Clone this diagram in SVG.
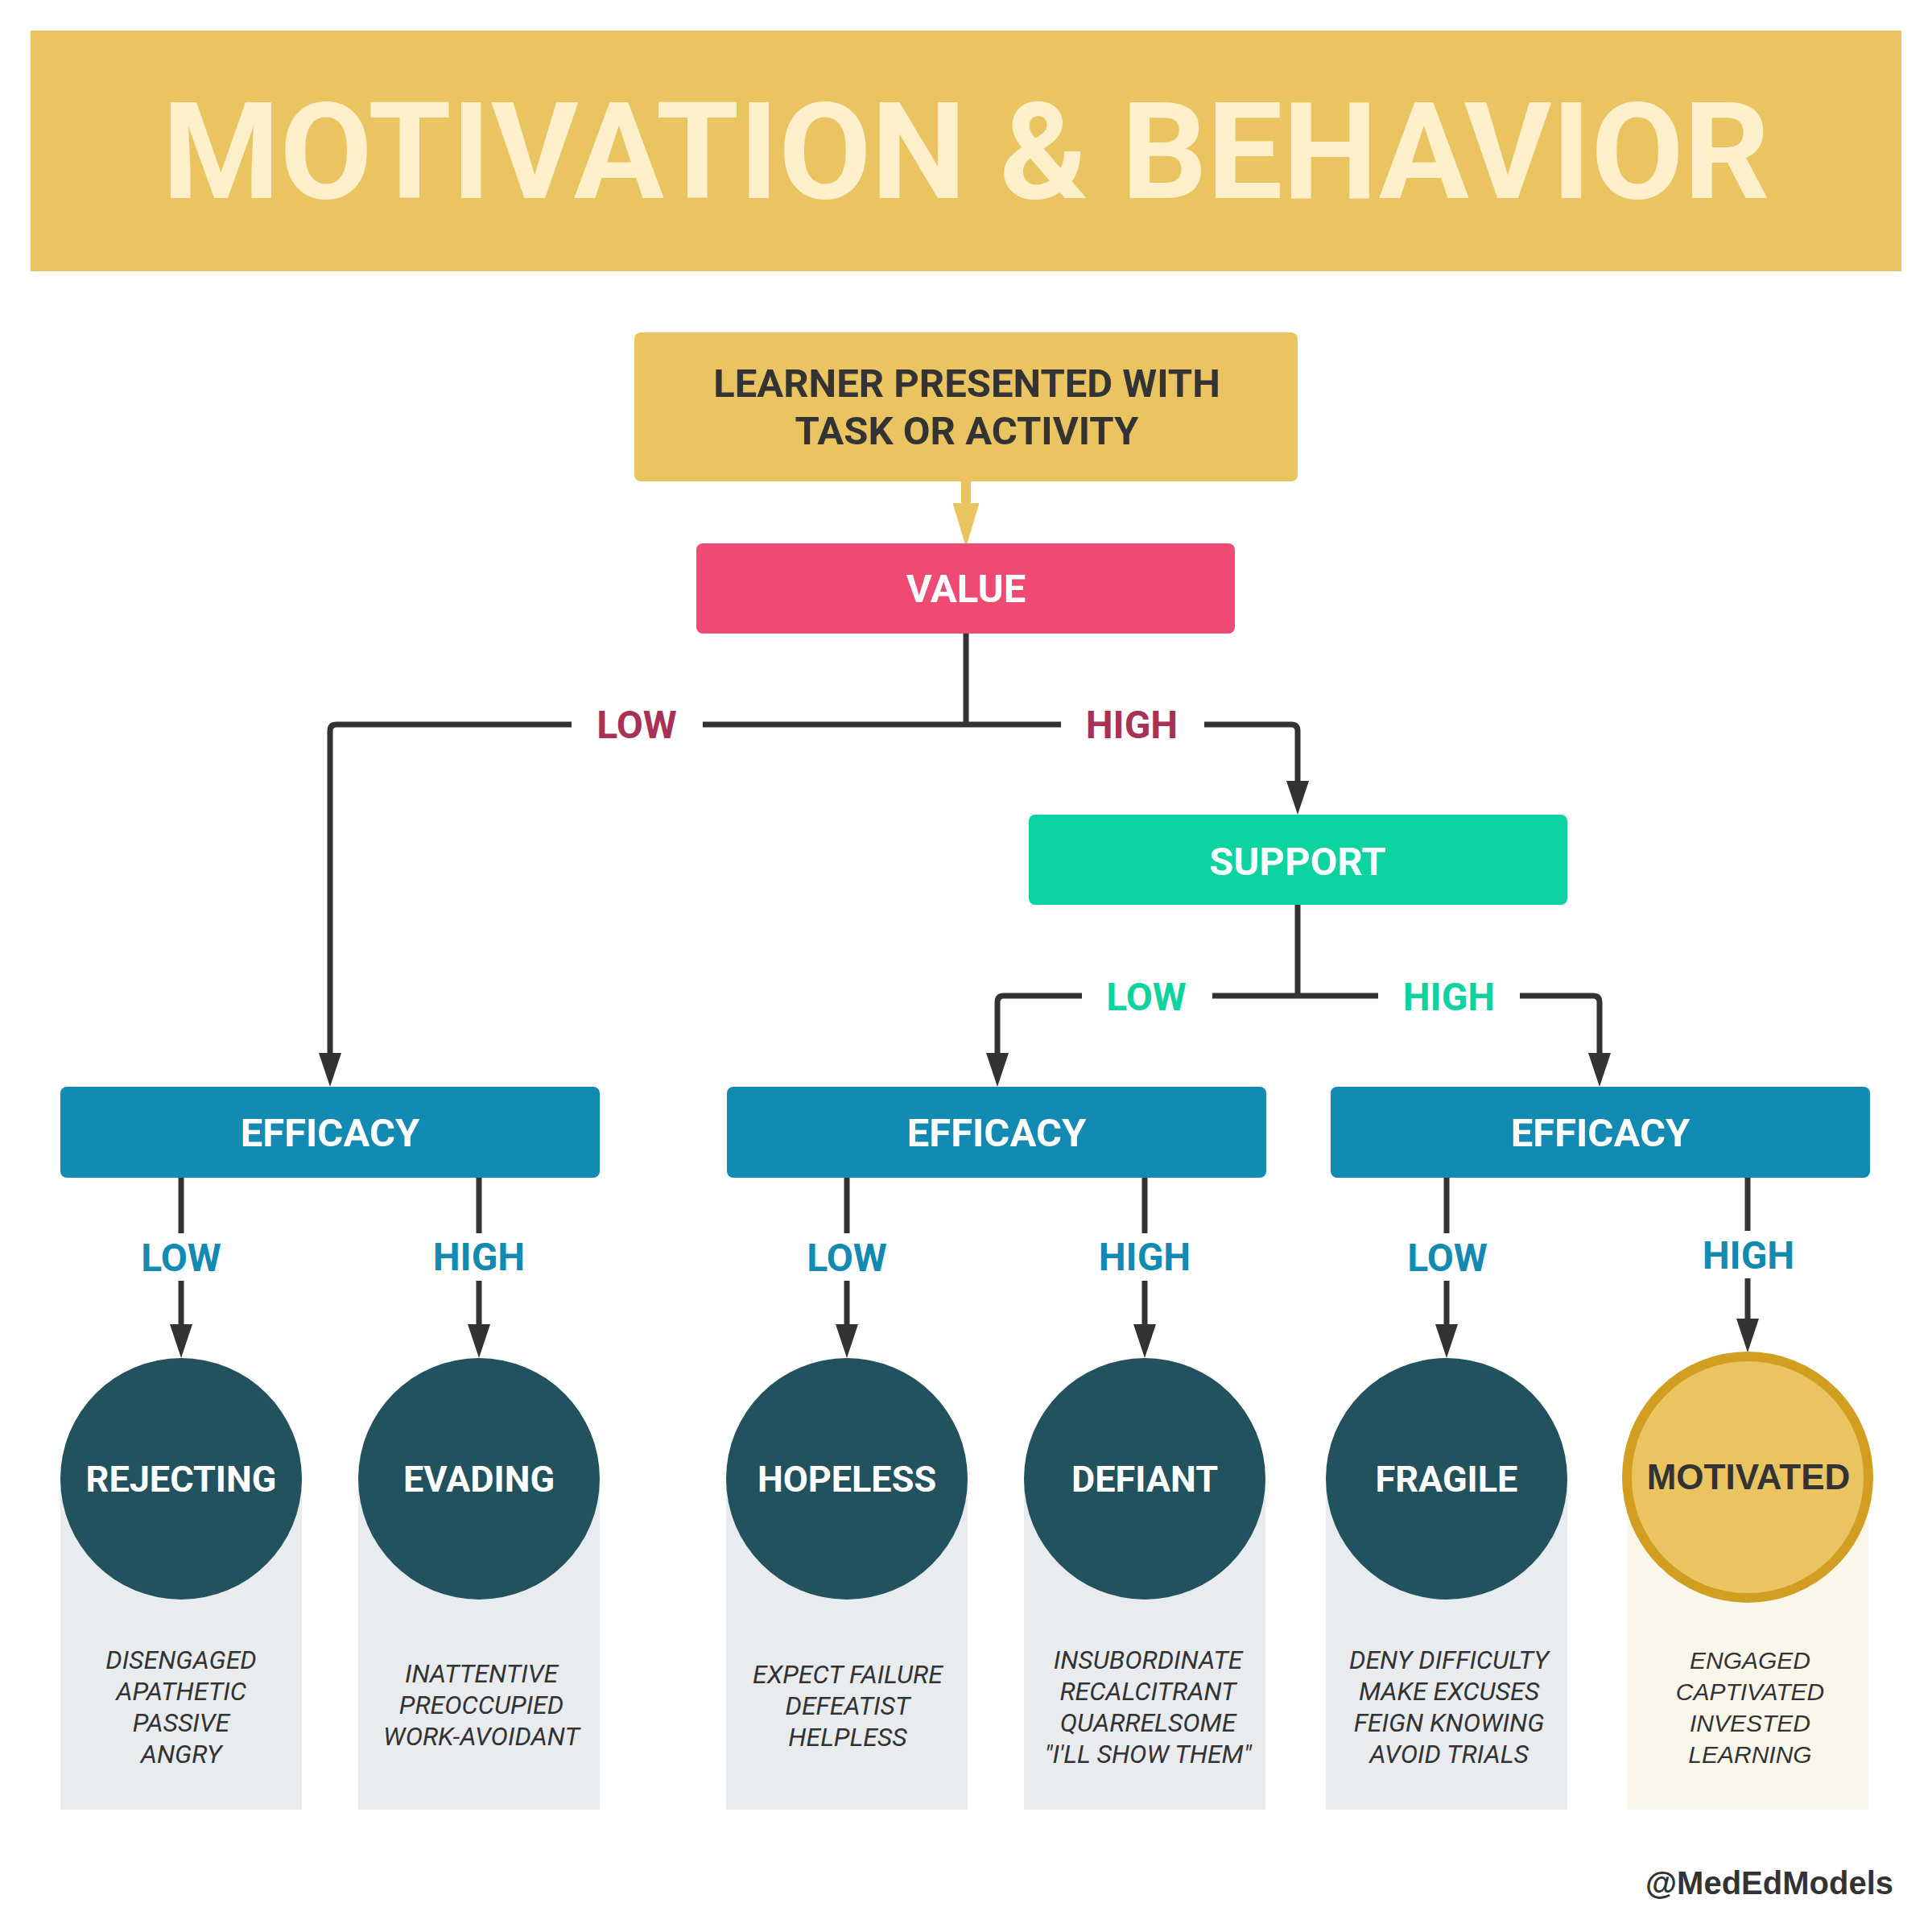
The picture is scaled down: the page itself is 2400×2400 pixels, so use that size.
<svg xmlns="http://www.w3.org/2000/svg" width="2400" height="2400" viewBox="0 0 2400 2400">
<style>
  .b { font-family: Roboto, "Liberation Sans", sans-serif; font-weight: 700; text-anchor: middle; }
  .title { font-size: 167px; fill: #FEF0CB; }
  .dark { fill: #333333; }
  .white { fill: #FFFFFF; }
  .boxtxt { font-size: 49px; }
  .lbl { font-size: 48px; }
  .pink { fill: #A83256; }
  .green { fill: #0DD3A0; }
  .blue { fill: #138AB1; }
  .circ { font-size: 45px; }
  .desc { font-family: Roboto, "Liberation Sans", sans-serif; font-style: italic; font-size: 32px; fill: #333333; text-anchor: middle; }
  .desc2 { font-family: "Liberation Sans", Arial, sans-serif; font-style: italic; font-size: 30px; fill: #333333; text-anchor: middle; }
  .conn { fill: none; stroke: #333333; stroke-width: 7; stroke-linejoin: round; }
  .state { fill: #23525F; }
  .panel { fill: #E9ECEE; }
</style>
<defs>
  <marker id="ah" viewBox="0 0 42 28" refX="22" refY="14" markerWidth="42" markerHeight="28" markerUnits="userSpaceOnUse" orient="auto">
    <path d="M0,0 L42,14 L0,28 Z" fill="#333333"/>
  </marker>
  <marker id="ahy" viewBox="0 0 55 33" refX="25" refY="16.5" markerWidth="55" markerHeight="33" markerUnits="userSpaceOnUse" orient="auto">
    <path d="M0,0 L55,16.5 L0,33 Z" fill="#EBC462"/>
  </marker>
</defs>

<rect width="2400" height="2400" fill="#FFFFFF"/>

<g id="title">
  <rect x="38" y="38" width="2324" height="299" fill="#EBC462"/>
  <text class="b title" x="1200" y="246">MOTIVATION &amp; BEHAVIOR</text>
</g>

<g id="connectors">
  <path d="M1200,598 L1200,650" fill="none" stroke="#EBC462" stroke-width="12" marker-end="url(#ahy)"/>
  <path class="conn" d="M1200,787 L1200,900"/>
  <path class="conn" d="M710,900 L418,900 Q410,900 410,908 L410,1330" marker-end="url(#ah)"/>
  <path class="conn" d="M873,900 L1318,900"/>
  <path class="conn" d="M1496,900 L1604,900 Q1612,900 1612,908 L1612,992" marker-end="url(#ah)"/>
  <text class="b lbl pink" x="791" y="917">LOW</text>
  <text class="b lbl pink" x="1406" y="917">HIGH</text>

  <path class="conn" d="M1612,1124 L1612,1237"/>
  <path class="conn" d="M1344,1237 L1247,1237 Q1239,1237 1239,1245 L1239,1330" marker-end="url(#ah)"/>
  <path class="conn" d="M1506,1237 L1712,1237"/>
  <path class="conn" d="M1888,1237 L1979,1237 Q1987,1237 1987,1245 L1987,1330" marker-end="url(#ah)"/>
  <text class="b lbl green" x="1424" y="1255">LOW</text>
  <text class="b lbl green" x="1800" y="1255">HIGH</text>

  <path class="conn" d="M225,1463 L225,1532"/>
  <path class="conn" d="M225,1591 L225,1667" marker-end="url(#ah)"/>
  <text class="b lbl blue" x="225" y="1579">LOW</text>
  <path class="conn" d="M595,1463 L595,1532"/>
  <path class="conn" d="M595,1591 L595,1667" marker-end="url(#ah)"/>
  <text class="b lbl blue" x="595" y="1578">HIGH</text>

  <path class="conn" d="M1052,1463 L1052,1532"/>
  <path class="conn" d="M1052,1591 L1052,1667" marker-end="url(#ah)"/>
  <text class="b lbl blue" x="1052" y="1579">LOW</text>
  <path class="conn" d="M1422,1463 L1422,1532"/>
  <path class="conn" d="M1422,1591 L1422,1667" marker-end="url(#ah)"/>
  <text class="b lbl blue" x="1422" y="1578">HIGH</text>

  <path class="conn" d="M1797,1463 L1797,1532"/>
  <path class="conn" d="M1797,1591 L1797,1667" marker-end="url(#ah)"/>
  <text class="b lbl blue" x="1798" y="1579">LOW</text>
  <path class="conn" d="M2171,1463 L2171,1529"/>
  <path class="conn" d="M2171,1588 L2171,1660" marker-end="url(#ah)"/>
  <text class="b lbl blue" x="2172" y="1576">HIGH</text>
</g>

<g id="node-task">
  <rect x="788" y="413" width="824" height="185" rx="8" fill="#EBC462"/>
  <text class="b boxtxt dark" x="1201" y="493">LEARNER PRESENTED WITH</text>
  <text class="b boxtxt dark" x="1201" y="552">TASK OR ACTIVITY</text>
</g>

<g id="node-value">
  <rect x="865" y="675" width="669" height="112" rx="8" fill="#EF4A72"/>
  <text class="b boxtxt white" x="1200" y="748">VALUE</text>
</g>

<g id="node-support">
  <rect x="1278" y="1012" width="669" height="112" rx="8" fill="#0DD3A0"/>
  <text class="b boxtxt white" x="1612" y="1087">SUPPORT</text>
</g>

<g id="node-efficacy-1">
  <rect x="75" y="1350" width="670" height="113" rx="8" fill="#138AB1"/>
  <text class="b boxtxt white" x="410" y="1424">EFFICACY</text>
</g>
<g id="node-efficacy-2">
  <rect x="903" y="1350" width="670" height="113" rx="8" fill="#138AB1"/>
  <text class="b boxtxt white" x="1238" y="1424">EFFICACY</text>
</g>
<g id="node-efficacy-3">
  <rect x="1653" y="1350" width="670" height="113" rx="8" fill="#138AB1"/>
  <text class="b boxtxt white" x="1988" y="1424">EFFICACY</text>
</g>

<g id="node-rejecting">
  <rect class="panel" x="75" y="1837" width="300" height="411"/>
  <circle class="state" cx="225" cy="1837" r="150"/>
  <text class="b circ white" x="225" y="1853">REJECTING</text>
  <text class="desc" x="225" y="2073">DISENGAGED</text>
  <text class="desc" x="225" y="2112">APATHETIC</text>
  <text class="desc" x="225" y="2151">PASSIVE</text>
  <text class="desc" x="225" y="2190">ANGRY</text>
</g>

<g id="node-evading">
  <rect class="panel" x="445" y="1837" width="300" height="411"/>
  <circle class="state" cx="595" cy="1837" r="150"/>
  <text class="b circ white" x="595" y="1853">EVADING</text>
  <text class="desc" x="598" y="2090">INATTENTIVE</text>
  <text class="desc" x="598" y="2129">PREOCCUPIED</text>
  <text class="desc" x="598" y="2168">WORK-AVOIDANT</text>
</g>

<g id="node-hopeless">
  <rect class="panel" x="902" y="1837" width="300" height="411"/>
  <circle class="state" cx="1052" cy="1837" r="150"/>
  <text class="b circ white" x="1052" y="1853">HOPELESS</text>
  <text class="desc" x="1053" y="2091">EXPECT FAILURE</text>
  <text class="desc" x="1053" y="2130">DEFEATIST</text>
  <text class="desc" x="1053" y="2169">HELPLESS</text>
</g>

<g id="node-defiant">
  <rect class="panel" x="1272" y="1837" width="300" height="411"/>
  <circle class="state" cx="1422" cy="1837" r="150"/>
  <text class="b circ white" x="1422" y="1853">DEFIANT</text>
  <text class="desc" x="1426" y="2073">INSUBORDINATE</text>
  <text class="desc" x="1426" y="2112">RECALCITRANT</text>
  <text class="desc" x="1426" y="2151">QUARRELSOME</text>
  <text class="desc" x="1426" y="2190">"I'LL SHOW THEM"</text>
</g>

<g id="node-fragile">
  <rect class="panel" x="1647" y="1837" width="300" height="411"/>
  <circle class="state" cx="1797" cy="1837" r="150"/>
  <text class="b circ white" x="1797" y="1853">FRAGILE</text>
  <text class="desc" x="1800" y="2073">DENY DIFFICULTY</text>
  <text class="desc" x="1800" y="2112">MAKE EXCUSES</text>
  <text class="desc" x="1800" y="2151">FEIGN KNOWING</text>
  <text class="desc" x="1800" y="2190">AVOID TRIALS</text>
</g>

<g id="node-motivated">
  <rect x="2021" y="1835" width="300" height="413" fill="#FBF6EA"/>
  <circle cx="2171" cy="1835" r="150" fill="#EBC462" stroke="#D29E22" stroke-width="12"/>
  <text x="2172" y="1850" font-family="'Liberation Sans', Arial, sans-serif" font-weight="700" font-size="44" fill="#333333" text-anchor="middle">MOTIVATED</text>
  <text class="desc2" x="2174" y="2073">ENGAGED</text>
  <text class="desc2" x="2174" y="2112">CAPTIVATED</text>
  <text class="desc2" x="2174" y="2151">INVESTED</text>
  <text class="desc2" x="2174" y="2190">LEARNING</text>
</g>

<g id="credit">
  <text x="2352" y="2353" font-family="'Liberation Sans', Arial, sans-serif" font-weight="700" font-size="40" fill="#333333" text-anchor="end">@MedEdModels</text>
</g>
</svg>
